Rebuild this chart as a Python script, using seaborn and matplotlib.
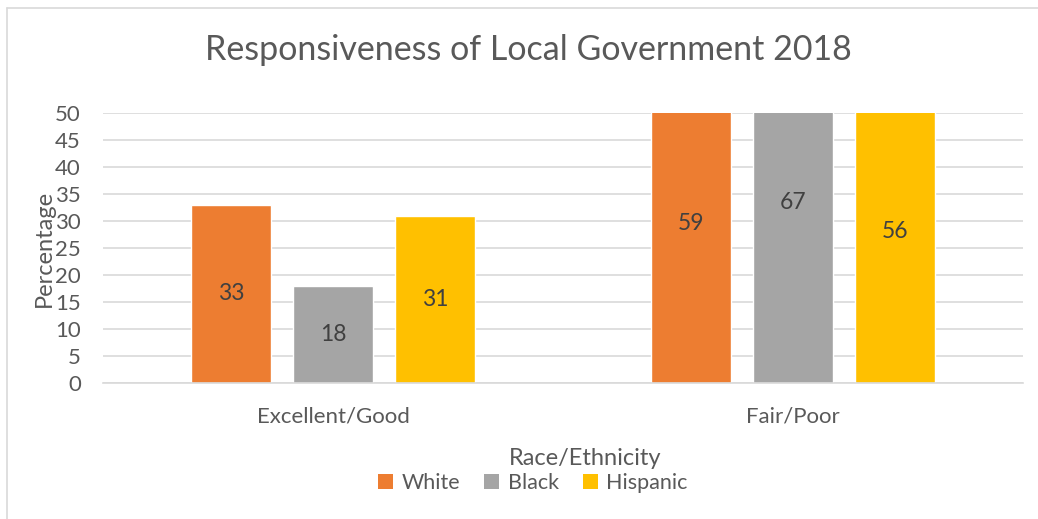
import matplotlib
matplotlib.use("Agg")
import matplotlib.pyplot as plt
from matplotlib.lines import Line2D
from matplotlib.patches import Patch
import seaborn as sns
import pandas as pd

categories = ["Excellent/Good", "Fair/Poor"]
groups = ["White", "Black", "Hispanic"]
white = [33, 59]
black = [18, 67]
hispanic = [31, 56]
yticks = [0, 5, 10, 15, 20, 25, 30, 35, 40, 45, 50]

colors = {"White": "#ED7D31", "Black": "#A5A5A5", "Hispanic": "#FFC000"}
text_gray = "#595959"
grid_gray = "#D9D9D9"

rows = []
for grp, vals in zip(groups, [white, black, hispanic]):
    for cat, v in zip(categories, vals):
        rows.append({"Rating": cat, "Group": grp, "Percentage": v})
df = pd.DataFrame(rows)

sns.set_theme(style="white")
plt.rcParams["font.family"] = ["Lato", "DejaVu Sans"]

fig = plt.figure(figsize=(10.38, 5.19), dpi=100)
ax = fig.add_axes([103 / 1038, 1 - 383 / 519, 920 / 1038, 270 / 519])

sns.barplot(data=df, x="Rating", y="Percentage", hue="Group", order=categories,
            hue_order=groups, palette=colors, width=0.665, gap=0.216,
            saturation=1, ax=ax, legend=False, errorbar=None)

ax.set_ylim(0, 50)
ax.set_xlim(-0.5, 1.5)
ax.set_yticks(yticks)
ax.set_yticklabels([str(t) for t in yticks])
ax.yaxis.grid(True, color=grid_gray, linewidth=1.2)
ax.set_axisbelow(True)
for side in ["left", "right", "top"]:
    ax.spines[side].set_visible(False)
ax.spines["bottom"].set_color(grid_gray)
ax.spines["bottom"].set_linewidth(1.2)
ax.tick_params(axis="both", length=0, colors=text_gray, labelsize=16)
ax.tick_params(axis="x", pad=17)
ax.tick_params(axis="y", pad=16)

# value labels sit at the middle of each full bar, even where the axis clips it
for container, vals in zip(ax.containers, [white, black, hispanic]):
    for bar, v in zip(container, vals):
        ax.text(bar.get_x() + bar.get_width() / 2, v / 2, str(v),
                ha="center", va="center", color="#404040", fontsize=16.5)

ax.set_ylabel("Percentage", color=text_gray, fontsize=17)
ax.yaxis.set_label_coords(-0.052, 0.5)
ax.set_xlabel("Race/Ethnicity", color=text_gray, fontsize=17)
ax.xaxis.set_label_coords((585 - 103) / 920, -0.24)

fig.suptitle("Responsiveness of Local Government 2018", color=text_gray,
             fontsize=24.5, x=(207 + 850) / 2 / 1038, y=1 - 50 / 519, va="center")

handles = [Patch(facecolor=colors[g], edgecolor="none") for g in groups]
fig.legend(handles, groups, loc="center", bbox_to_anchor=(533 / 1038, 1 - 483 / 519),
           ncol=3, frameon=False, fontsize=15.5, handlelength=0.7, handleheight=0.7,
           handletextpad=0.4, columnspacing=1.1, labelcolor=text_gray)

# chart frame
fig.add_artist(Line2D([7 / 1038, 1.0], [1 - 8 / 519, 1 - 8 / 519],
                      color=grid_gray, linewidth=1.2, transform=fig.transFigure))
fig.add_artist(Line2D([7 / 1038, 7 / 1038], [0.0, 1 - 8 / 519],
                      color=grid_gray, linewidth=1.2, transform=fig.transFigure))

fig.savefig("out.png", dpi=100, facecolor="white")
